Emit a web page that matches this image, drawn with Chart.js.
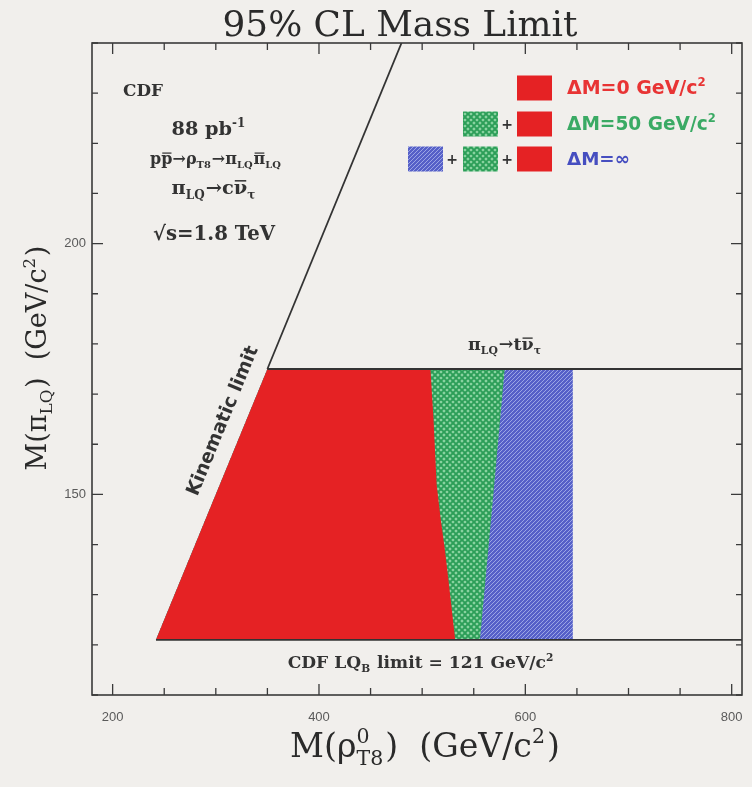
<!DOCTYPE html>
<html><head><meta charset="utf-8">
<script src="https://cdn.jsdelivr.net/npm/chart.js@4/dist/chart.umd.min.js"></script>
<style>html,body{margin:0;padding:0;background:#f1efec;}canvas{display:block}</style>
</head><body>
<canvas id="c" width="752" height="787"></canvas>
<script>
// ---------------- data ----------------
const xMin = 180, xMax = 810;          // M(rho_T8) GeV/c^2
const yMin = 110, yMax = 240;          // M(pi_LQ) GeV/c^2
const xTicks = [200, 250, 300, 350, 400, 450, 500, 550, 600, 650, 700, 750, 800];
const xLabels = [200, 400, 600, 800];
const yTicks = [110, 120, 130, 140, 150, 160, 170, 180, 190, 200, 210, 220, 230, 240];
const yLabels = [150, 200];

// excluded regions (polygons, M(rho), M(pi))
const redRho   = [242, 350, 508, 511, 514, 518, 522, 526, 532];
const redPi    = [121, 175, 175, 165, 152, 145, 139, 132, 121];
const greenRho = [242, 350, 580, 569, 556];
const greenPi  = [121, 175, 175, 150, 121];
const blueRho  = [242, 350, 646, 646];
const bluePi   = [121, 175, 175, 121];

// boundary lines
const kinematicRho = [350, 480];
const kinematicPi  = [175, 240];
const topLineRho = [350, 810];
const topLinePi  = [175, 175];
const lqLineRho  = [242, 810];
const lqLinePi   = [121, 121];

const legendLabels = ['ΔM=0 GeV/c', 'ΔM=50 GeV/c', 'ΔM=∞'];

// ---------------- helpers ----------------
function pts(xs, ys, close) {
  const a = xs.map((x, i) => ({x, y: ys[i]}));
  if (close) a.push({x: xs[0], y: ys[0]});
  return a;
}
function makeGreen() {
  const c = document.createElement('canvas'); c.width = c.height = 6;
  const g = c.getContext('2d');
  g.fillStyle = 'rgb(140,212,162)'; g.fillRect(0, 0, 6, 6);
  g.strokeStyle = 'rgb(44,158,88)'; g.lineWidth = 1.9;
  g.beginPath();
  for (const o of [-6, 0, 6]) {
    g.moveTo(o, 0); g.lineTo(o + 6, 6);
    g.moveTo(o, 6); g.lineTo(o + 6, 0);
  }
  g.stroke();
  return g.createPattern(c, 'repeat');
}
function makeBlue() {
  const c = document.createElement('canvas'); c.width = c.height = 4;
  const g = c.getContext('2d');
  g.fillStyle = 'rgb(86,96,200)'; g.fillRect(0, 0, 4, 4);
  g.strokeStyle = 'rgb(155,165,228)'; g.lineWidth = 1;
  g.beginPath();
  for (const o of [-4, 0, 4]) { g.moveTo(o, 4); g.lineTo(o + 4, 0); }
  g.stroke();
  return g.createPattern(c, 'repeat');
}
const RED = 'rgb(229,34,36)';
const GREEN = makeGreen();
const BLUE = makeBlue();

function measureRich(ctx, items, size, font) {
  return items.map(it => {
    if (it.sub !== undefined || it.sup !== undefined) {
      ctx.font = font(size * 0.62);
      return Math.max(it.sub ? ctx.measureText(it.sub).width : 0,
                      it.sup ? ctx.measureText(it.sup).width : 0) + size * 0.06;
    }
    ctx.font = font(size); return ctx.measureText(it.t).width;
  });
}
function drawRich(ctx, parts, x, y, o) {
  const fam = o.family, wt = o.weight || 'normal';
  const font = s => `${wt} ${s}px ${fam}`;
  const items = parts.map(p => typeof p === 'string' ? {t: p} : p);
  let size = o.size;
  let widths = measureRich(ctx, items, size, font);
  let total = widths.reduce((a, b) => a + b, 0);
  if (o.width) {
    size = size * o.width / total;
    widths = measureRich(ctx, items, size, font);
    total = widths.reduce((a, b) => a + b, 0);
  }
  let cx = o.align === 'left' ? x : o.align === 'right' ? x - total : x - total / 2;
  ctx.fillStyle = o.color; ctx.textAlign = 'left'; ctx.textBaseline = 'alphabetic';
  items.forEach((it, i) => {
    if (it.sub !== undefined || it.sup !== undefined) {
      ctx.font = font(size * 0.62);
      if (it.sup) ctx.fillText(it.sup, cx, y - size * 0.42);
      if (it.sub) ctx.fillText(it.sub, cx, y + size * 0.24);
    } else {
      ctx.font = font(size); ctx.fillText(it.t, cx, y);
      if (it.bar) {
        ctx.strokeStyle = o.color; ctx.lineWidth = Math.max(1, size / 13);
        ctx.beginPath(); ctx.moveTo(cx + 1, y - size * 0.68); ctx.lineTo(cx + widths[i] - 1, y - size * 0.68); ctx.stroke();
      }
    }
    cx += widths[i];
  });
  return total;
}

// ---------------- frame + inward ticks ----------------
const framePlugin = {
  id: 'frame',
  afterDraw(chart) {
    const {ctx, chartArea: a, scales: {x, y}} = chart;
    ctx.save();
    ctx.strokeStyle = '#3a3a3a'; ctx.lineWidth = 1.6;
    ctx.strokeRect(a.left, a.top, a.right - a.left, a.bottom - a.top);
    ctx.lineWidth = 1.3;
    ctx.beginPath();
    x.ticks.forEach(t => {
      const px = x.getPixelForValue(t.value);
      const L = xLabels.includes(t.value) ? 11 : 7;
      ctx.moveTo(px, a.bottom); ctx.lineTo(px, a.bottom - L);
      ctx.moveTo(px, a.top); ctx.lineTo(px, a.top + L);
    });
    y.ticks.forEach(t => {
      const py = y.getPixelForValue(t.value);
      const L = yLabels.includes(t.value) ? 11 : 6;
      ctx.moveTo(a.left, py); ctx.lineTo(a.left + L, py);
      ctx.moveTo(a.right, py); ctx.lineTo(a.right - L, py);
    });
    ctx.stroke();
    ctx.restore();
  }
};

// ---------------- texts ----------------
const textPlugin = {
  id: 'texts',
  afterDraw(chart) {
    const {ctx, scales: {x, y}} = chart;
    ctx.save();
    const serif = "'DejaVu Serif', 'Liberation Serif', serif";
    const sans = "'DejaVu Sans', 'Liberation Sans', sans-serif";
    const dark = '#2a2a2a';
    // title
    drawRich(ctx, ['95% CL Mass Limit'], 400, 36, {size: 30, width: 355, family: serif, color: dark});
    // x title
    drawRich(ctx, ['M(', 'ρ', {sup: '0', sub: 'T8'}, ')  (GeV/c', {sup: '2'}, ')'], 425, 757,
             {size: 30, width: 270, family: serif, color: dark});
    // y title
    ctx.save(); ctx.translate(46, 358); ctx.rotate(-Math.PI / 2);
    drawRich(ctx, ['M(', 'π', {sub: 'LQ'}, ')  (GeV/c', {sup: '2'}, ')'], 0, 0,
             {size: 30, width: 225, family: serif, color: dark});
    ctx.restore();

    const tc = '#333';
    drawRich(ctx, ['CDF'], 123, 96, {size: 15, width: 40, family: serif, weight: 'bold', color: tc, align: 'left'});
    drawRich(ctx, ['88 pb', {sup: '-1'}], 209, 135, {size: 15, width: 75, family: serif, weight: 'bold', color: tc});
    drawRich(ctx, ['p', {t: 'p', bar: true}, '→', 'ρ', {sub: 'T8'}, '→', 'π', {sub: 'LQ'}, {t: 'π', bar: true}, {sub: 'LQ'}],
             216, 164, {size: 15, width: 132, family: serif, weight: 'bold', color: tc});
    drawRich(ctx, ['π', {sub: 'LQ'}, '→c', {t: 'ν', bar: true}, {sub: 'τ'}], 214, 194,
             {size: 15, width: 85, family: serif, weight: 'bold', color: tc});
    drawRich(ctx, ['√s=1.8 TeV'], 214, 240, {size: 17, width: 122, family: serif, weight: 'bold', color: tc});

    drawRich(ctx, ['π', {sub: 'LQ'}, '→t', {t: 'ν', bar: true}, {sub: 'τ'}], 505, 350,
             {size: 14, width: 74, family: serif, weight: 'bold', color: tc});
    drawRich(ctx, ['CDF LQ', {sub: 'B'}, ' limit = 121 GeV/c', {sup: '2'}], 421, 668,
             {size: 17, width: 267, family: serif, weight: 'bold', color: tc});

    // kinematic limit label along the line
    const x0 = x.getPixelForValue(kinematicRho[0]), y0 = y.getPixelForValue(kinematicPi[0]);
    const x1 = x.getPixelForValue(kinematicRho[1]), y1 = y.getPixelForValue(kinematicPi[1]);
    const ang = Math.atan2(y1 - y0, x1 - x0);
    ctx.save(); ctx.translate(223, 421); ctx.rotate(ang);
    drawRich(ctx, ['Kinematic limit'], 0, 5, {size: 15, width: 160, family: sans, weight: 'bold', color: tc});
    ctx.restore();

    // legend
    const colors = ['rgb(232,52,52)', 'rgb(58,170,100)', 'rgb(70,78,192)'];
    const widths = [140, 150, 63];
    const rows = [88, 124, 159];
    const bw = 35, bh = 25;
    const boxes = [[RED], [GREEN, RED], [BLUE, GREEN, RED]];
    const boxX = [517, 463, 408];
    rows.forEach((ry, r) => {
      const list = boxes[r];
      list.forEach((fill, k) => {
        const bx = boxX[list.length - 1 - k];
        ctx.fillStyle = fill; ctx.fillRect(bx, ry - bh / 2, bw, bh);
        if (k < list.length - 1) {
          ctx.fillStyle = '#333'; ctx.font = "bold 14px 'DejaVu Sans'"; ctx.textAlign = 'center'; ctx.textBaseline = 'middle';
          ctx.fillText('+', bx + bw + 9, ry + 1);
        }
      });
      const parts = r < 2 ? [legendLabels[r], {sup: '2'}] : [legendLabels[r]];
      drawRich(ctx, parts, 567, ry + 6, {size: 15, width: widths[r], family: sans, weight: 'bold', color: colors[r], align: 'left'});
    });
    ctx.restore();
  }
};

// ---------------- chart ----------------
const lineStyle = {showLine: true, fill: false, borderColor: '#333', borderWidth: 1.8, pointRadius: 0, order: -1};
new Chart(document.getElementById('c'), {
  type: 'scatter',
  data: {
    datasets: [
      {label: 'ΔM=0', data: pts(redRho, redPi, true), showLine: true, fill: 'shape', backgroundColor: RED, borderWidth: 0, pointRadius: 0, order: 0},
      {label: 'ΔM=50', data: pts(greenRho, greenPi, true), showLine: true, fill: 'shape', backgroundColor: GREEN, borderWidth: 0, pointRadius: 0, order: 1},
      {label: 'ΔM=inf', data: pts(blueRho, bluePi, true), showLine: true, fill: 'shape', backgroundColor: BLUE, borderWidth: 0, pointRadius: 0, order: 2},
      Object.assign({label: 'kinematic', data: pts(kinematicRho, kinematicPi)}, lineStyle),
      Object.assign({label: 'top', data: pts(topLineRho, topLinePi)}, lineStyle),
      Object.assign({label: 'lq', data: pts(lqLineRho, lqLinePi)}, lineStyle)
    ]
  },
  options: {
    responsive: false, animation: false, devicePixelRatio: 1,
    layout: {padding: {top: 43, right: 10, left: 0, bottom: 0}},
    plugins: {legend: {display: false}, tooltip: {enabled: false}, title: {display: false}},
    scales: {
      x: {type: 'linear', min: xMin, max: xMax,
          grid: {display: false, drawTicks: false}, border: {display: false},
          afterBuildTicks(s) { s.ticks = xTicks.map(v => ({value: v})); },
          ticks: {autoSkip: false, maxRotation: 0, padding: 15, color: '#5a5a5a',
                  font: {family: "'Liberation Sans'", size: 13},
                  callback: v => xLabels.includes(v) ? String(v) : ''},
          afterFit(s) { s.height = 92; s.paddingLeft = 0; s.paddingRight = 0; }},
      y: {type: 'linear', min: yMin, max: yMax,
          grid: {display: false, drawTicks: false}, border: {display: false},
          afterBuildTicks(s) { s.ticks = yTicks.map(v => ({value: v})); },
          ticks: {autoSkip: false, padding: 6, color: '#5a5a5a',
                  font: {family: "'Liberation Sans'", size: 13},
                  callback: v => yLabels.includes(v) ? String(v) : ''},
          afterFit(s) { s.width = 92; s.paddingTop = 0; s.paddingBottom = 0; }}
    }
  },
  plugins: [framePlugin, textPlugin]
});
</script>
</body></html>
